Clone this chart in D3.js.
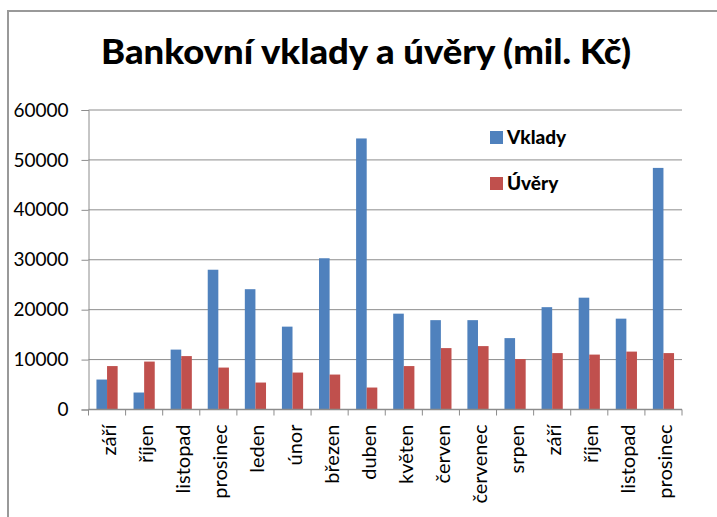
<!DOCTYPE html>
<html>
<head>
<meta charset="utf-8">
<script src="https://cdn.jsdelivr.net/npm/d3@7"></script>
<style>
  body { margin: 0; background: #fff; }
  text { font-family: Lato, "Open Sans", sans-serif; fill: #000; }
  .title { font-weight: 900; font-size: 34px; }
  .tick text { font-size: 19px; }
  .legend text { font-weight: 900; font-size: 19px; }
</style>
</head>
<body>
<svg width="717" height="517"></svg>
<script>
const months = ['září','říjen','listopad','prosinec','leden','únor','březen','duben',
  'květen','červen','červenec','srpen','září','říjen','listopad','prosinec']
const vklady = [6000, 3400, 12000, 28000, 24100, 16600, 30300, 54300,
  19200, 17900, 17900, 14300, 20500, 22400, 18200, 48400]
const uvery = [8700, 9600, 10700, 8400, 5400, 7400, 7000, 4400,
  8700, 12300, 12700, 10100, 11300, 11000, 11600, 11300]
const seriesNames = ['Vklady', 'Úvěry']
const colors = ['#4F81BD', '#C0504D']
const yTicks = [0, 10000, 20000, 30000, 40000, 50000, 60000]

const svg = d3.select('svg')
const margin = { top: 110, right: 35, bottom: 107.5, left: 88.5 }
const width = 717 - margin.left - margin.right
const height = 517 - margin.top - margin.bottom

// outer chart border (top and left visible)
svg.append('path')
  .attr('d', 'M8,520 V11 H720')
  .attr('fill', 'none')
  .attr('stroke', '#999')
  .attr('stroke-width', 2)

svg.append('text')
  .attr('class', 'title')
  .attr('x', 366)
  .attr('y', 64)
  .attr('text-anchor', 'middle')
  .attr('textLength', 530)
  .attr('lengthAdjust', 'spacingAndGlyphs')
  .text('Bankovní vklady a úvěry (mil. Kč)')

const g = svg.append('g')
  .attr('transform', `translate(${margin.left},${margin.top})`)

const x = d3.scaleBand().domain(d3.range(months.length)).range([0, width]).padding(0)
const x1 = d3.scaleBand().domain([0, 1]).range([0, x.bandwidth()])
  .paddingInner(0).paddingOuter(0.75)
const y = d3.scaleLinear().domain([0, 60000]).range([height, 0])

// gridlines
g.append('g')
  .selectAll('line')
  .data(yTicks.slice(1))
  .join('line')
  .attr('x1', 0).attr('x2', width)
  .attr('y1', d => y(d)).attr('y2', d => y(d))
  .attr('stroke', '#8c8c8c')
  .attr('stroke-width', 1)

// y axis
const yAxis = g.append('g')
  .call(d3.axisLeft(y).tickValues(yTicks).tickSize(7).tickPadding(13).tickFormat(d3.format('d')))
yAxis.select('.domain').attr('stroke', '#8c8c8c')
yAxis.selectAll('.tick line').attr('stroke', '#8c8c8c')

// bars
const groups = g.selectAll('.grp')
  .data(months.map((m, i) => [vklady[i], uvery[i]]))
  .join('g')
  .attr('class', 'grp')
  .attr('transform', (d, i) => `translate(${x(i)},0)`)

groups.selectAll('rect')
  .data(d => d)
  .join('rect')
  .attr('x', (d, j) => x1(j))
  .attr('y', d => y(d))
  .attr('width', x1.bandwidth())
  .attr('height', d => height - y(d))
  .attr('fill', (d, j) => colors[j])

// x axis
const xAxis = g.append('g')
  .attr('transform', `translate(0,${height})`)
xAxis.append('line')
  .attr('x1', 0).attr('x2', width)
  .attr('stroke', '#8c8c8c').attr('stroke-width', 1.5)
xAxis.selectAll('.xt')
  .data(d3.range(months.length + 1))
  .join('line')
  .attr('x1', d => d * x.bandwidth()).attr('x2', d => d * x.bandwidth())
  .attr('y1', 0).attr('y2', 6)
  .attr('stroke', '#8c8c8c')
xAxis.selectAll('.xl')
  .data(months)
  .join('text')
  .attr('class', 'tick')
  .attr('transform', (d, i) => `translate(${x(i) + x.bandwidth() / 2 + 2},15) rotate(-90)`)
  .attr('text-anchor', 'end')
  .attr('dy', '0.35em')
  .style('font-size', '20px')
  .text(d => d)

// legend
const legend = svg.append('g').attr('class', 'legend')
  .selectAll('g')
  .data(seriesNames)
  .join('g')
  .attr('transform', (d, i) => `translate(490,${131 + i * 46})`)
legend.append('rect')
  .attr('width', 13).attr('height', 13)
  .attr('fill', (d, i) => colors[i])
legend.append('text')
  .attr('x', 17).attr('y', 13)
  .text(d => d)
</script>
</body>
</html>
